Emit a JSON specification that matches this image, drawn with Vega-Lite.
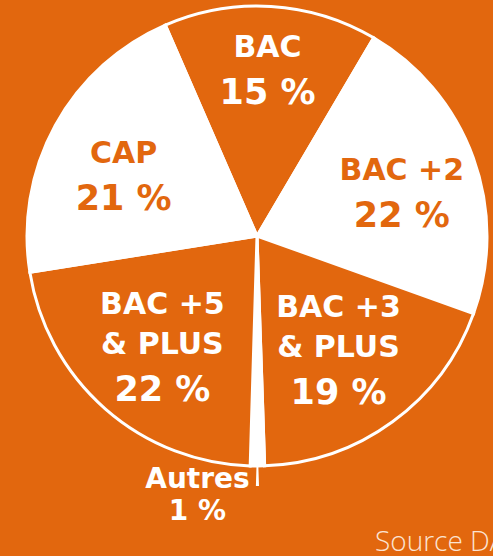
{
  "$schema": "https://vega.github.io/schema/vega-lite/v6.json",
  "width": 472,
  "height": 472,
  "autosize": {"type": "none"},
  "padding": {"left": 21, "top": 0, "right": 0, "bottom": 84},
  "background": "#E2670E",
  "title": {"text": "Source DARES", "orient": "bottom", "anchor": "start", "frame": "group", "dx": 354, "offset": 25, "baseline": "alphabetic", "font": "Open Sans", "fontSize": 28, "fontWeight": 300, "color": "#FBE3D2"},
  "config": {"view": {"stroke": null}},
  "data": {"values": [
    {"idx": 1, "level": "BAC", "name": "BAC", "share": 15, "pct": "15 %"},
    {"idx": 2, "level": "BAC +2", "name": "BAC +2", "share": 22, "pct": "22 %"},
    {"idx": 3, "level": "BAC +3 & PLUS", "name": "BAC +3\n& PLUS", "share": 19, "pct": "19 %"},
    {"idx": 4, "level": "Autres", "name": "Autres", "share": 1, "pct": "1 %"},
    {"idx": 5, "level": "BAC +5 & PLUS", "name": "BAC +5\n& PLUS", "share": 22, "pct": "22 %"},
    {"idx": 6, "level": "CAP", "name": "CAP", "share": 21, "pct": "21 %"}
  ]},
  "encoding": {
    "theta": {"field": "share", "type": "quantitative", "stack": true, "scale": {"range": [-0.4102, 5.873]}},
    "order": {"field": "idx", "type": "quantitative"}
  },
  "layer": [
    {
      "mark": {"type": "arc", "outerRadius": 230, "stroke": "#ffffff", "strokeWidth": 3},
      "encoding": {
        "color": {"field": "level", "type": "nominal", "legend": null,
          "scale": {"domain": ["BAC", "BAC +2", "BAC +3 & PLUS", "Autres", "BAC +5 & PLUS", "CAP"],
                    "range": ["#E2670E", "#ffffff", "#E2670E", "#ffffff", "#E2670E", "#ffffff"]}}
      }
    },
    {
      "mark": {"type": "arc", "innerRadius": 231, "outerRadius": 250, "padAngle": 0.037, "fill": "#ffffff",
        "opacity": {"expr": "datum.level === 'Autres' ? 1 : 0"}},
      "encoding": {}
    },
    {
      "mark": {"type": "text", "font": "DejaVu Sans", "fontWeight": "bold", "lineHeight": 40, "lineBreak": "\n", "baseline": "bottom",
        "fontSize": {"expr": "datum.level === 'Autres' ? 28 : 30"},
        "radius": {"expr": "datum.level === 'BAC' ? 173 : datum.level === 'Autres' ? 258 : datum.level === 'CAP' ? 152 : datum.level === 'BAC +2' ? 154 : 157"},
        "dx": {"expr": "datum.level === 'Autres' ? -60 : datum.level === 'BAC +3 & PLUS' ? -11 : datum.level === 'BAC +5 & PLUS' ? 9 : 0"},
        "dy": {"expr": "(indexof(datum.name, '\\n') >= 0 ? -40 : 0) + (datum.level === 'BAC +5 & PLUS' || datum.level === 'CAP' ? 6 : datum.level === 'BAC +2' ? 2 : 0)"}},
      "encoding": {
        "text": {"field": "name", "type": "nominal"},
        "color": {"condition": {"test": "datum.level === 'CAP' || datum.level === 'BAC +2'", "value": "#E2670E"}, "value": "#ffffff"}
      }
    },
    {
      "mark": {"type": "text", "font": "DejaVu Sans", "fontWeight": "bold", "baseline": "top",
        "fontSize": {"expr": "datum.level === 'Autres' ? 28 : 35"},
        "radius": {"expr": "datum.level === 'BAC' ? 173 : datum.level === 'Autres' ? 258 : datum.level === 'CAP' ? 152 : datum.level === 'BAC +2' ? 154 : 157"},
        "dx": {"expr": "datum.level === 'Autres' ? -60 : datum.level === 'BAC +3 & PLUS' ? -11 : datum.level === 'BAC +5 & PLUS' ? 9 : 0"},
        "dy": {"expr": "datum.level === 'Autres' ? 4 : 13 + (datum.level === 'BAC +5 & PLUS' || datum.level === 'CAP' ? 6 : datum.level === 'BAC +2' ? 2 : 0)"}},
      "encoding": {
        "text": {"field": "pct", "type": "nominal"},
        "color": {"condition": {"test": "datum.level === 'CAP' || datum.level === 'BAC +2'", "value": "#E2670E"}, "value": "#ffffff"}
      }
    }
  ]
}
